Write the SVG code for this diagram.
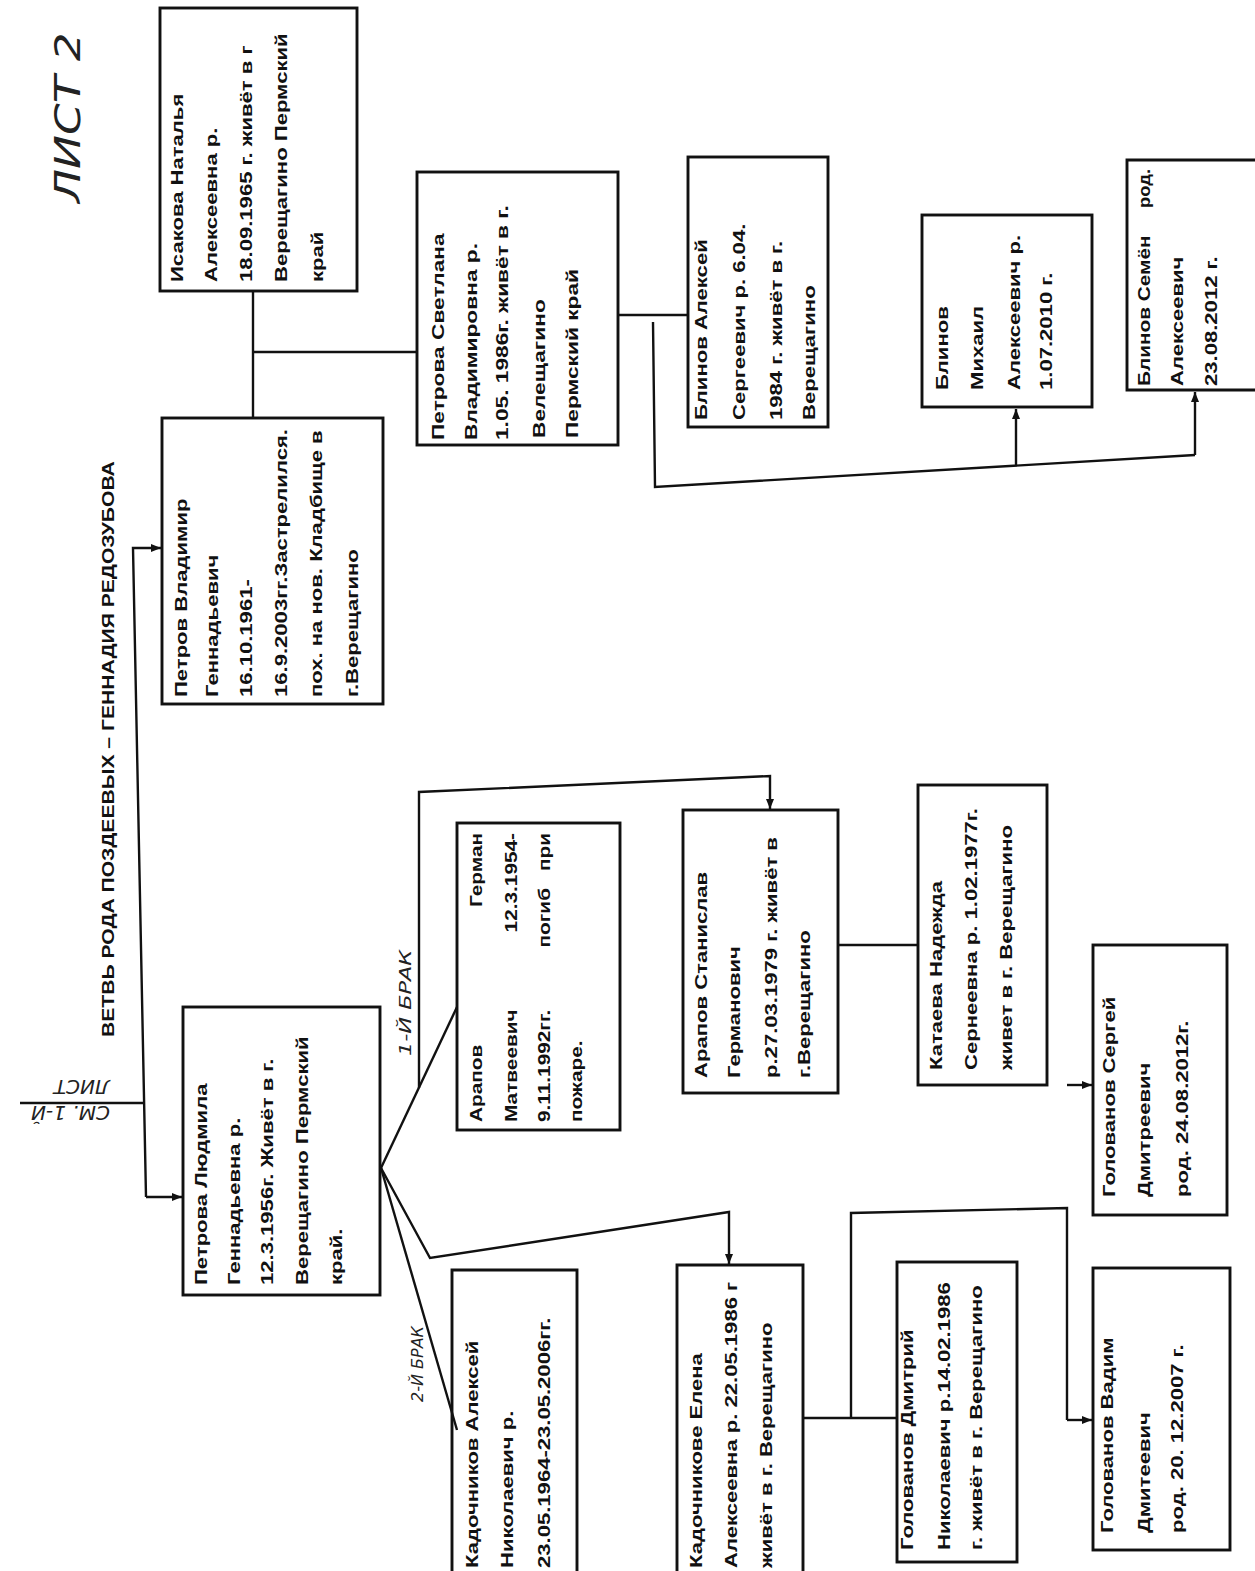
<svg xmlns="http://www.w3.org/2000/svg" width="1255" height="1571" viewBox="0 0 1255 1571">
<style>
.box{fill:none;stroke:#111;stroke-width:2.9}
.ln{fill:none;stroke:#111;stroke-width:2.4}
.t{font-family:"Liberation Sans",Arial,sans-serif;font-weight:bold;font-size:16px;fill:#111}
.ttl{font-family:"Liberation Sans",Arial,sans-serif;font-weight:bold;font-size:16px;fill:#111}
.hw{font-family:"DejaVu Sans","Liberation Sans",sans-serif;font-style:italic;fill:#222}
</style>
<defs>
<marker id="ar" markerUnits="userSpaceOnUse" markerWidth="11" markerHeight="8" refX="10" refY="4" orient="auto">
<path d="M0,0 L10,4 L0,8 z" fill="#111"/>
</marker>
</defs>
<rect width="1255" height="1571" fill="#fff"/>

<g id="title">
<text class="ttl" transform="translate(114,1037) rotate(-90) scale(1.32,1)">ВЕТВЬ РОДА ПОЗДЕЕВЫХ – ГЕННАДИЯ РЕДОЗУБОВА</text>
<text class="hw" font-size="36" transform="translate(80,203) rotate(-90) scale(1.26,1)">ЛИСТ 2</text>
</g>

<g id="connectors">
<path class="ln" d="M253,291 V418"/>
<path class="ln" d="M253,352 H417"/>
<path class="ln" d="M618,315 H688"/>
<path class="ln" d="M653,322 L655,487 L1195,455"/>
<path class="ln" d="M1016,466 V409" marker-end="url(#ar)"/>
<path class="ln" d="M1195,455 V392" marker-end="url(#ar)"/>
<path class="ln" d="M20,1103 H144"/>
<path class="ln" d="M146,1197 L133,548 H161" marker-end="url(#ar)"/>
<path class="ln" d="M146,1197 H182" marker-end="url(#ar)"/>
<path class="ln" d="M381,1168 L457,1007"/>
<path class="ln" d="M381,1168 L457,1430"/>
<path class="ln" d="M419,1088 V792 L770,776 V809" marker-end="url(#ar)"/>
<path class="ln" d="M381,1168 L430,1258 L729,1212 V1264" marker-end="url(#ar)"/>
<path class="ln" d="M838,945 H918"/>
<path class="ln" d="M803,1418 H897"/>
<path class="ln" d="M851,1418 V1213 L1067,1208 V1420"/>
<path class="ln" d="M1067,1085 H1092" marker-end="url(#ar)"/>
<path class="ln" d="M1067,1420 H1092" marker-end="url(#ar)"/>
<text class="hw" font-size="16" transform="translate(411,1056) rotate(-90) scale(1.4,1)">1-Й БРАК</text>
<text class="hw" font-size="16" transform="translate(423,1402) rotate(-90)">2-Й БРАК</text>
<text class="hw" font-size="20" transform="translate(110,1106) rotate(180)">СМ. 1-Й</text>
<text class="hw" font-size="20" transform="translate(110,1080) rotate(180)">ЛИСТ</text>
</g>

<g id="isakova">
<rect class="box" x="160" y="8" width="197" height="283"/>
<text class="t" transform="translate(183,282) rotate(-90) scale(1.38,1)">Исакова Наталья</text>
<text class="t" transform="translate(217,282) rotate(-90) scale(1.38,1)">Алексеевна р.</text>
<text class="t" transform="translate(252,282) rotate(-90) scale(1.38,1)">18.09.1965 г. живёт в г</text>
<text class="t" transform="translate(287,282) rotate(-90) scale(1.38,1)">Верещагино Пермский</text>
<text class="t" transform="translate(323,282) rotate(-90) scale(1.38,1)">край</text>
</g>

<g id="petrov-vladimir">
<rect class="box" x="162" y="418" width="221" height="286"/>
<text class="t" transform="translate(187,697) rotate(-90) scale(1.38,1)">Петров Владимир</text>
<text class="t" transform="translate(218,697) rotate(-90) scale(1.38,1)">Геннадьевич</text>
<text class="t" transform="translate(252,697) rotate(-90) scale(1.38,1)">16.10.1961-</text>
<text class="t" transform="translate(287,697) rotate(-90) scale(1.38,1)">16.9.2003гг.Застрелился.</text>
<text class="t" transform="translate(322,697) rotate(-90) scale(1.38,1)">пох. на нов. Кладбище в</text>
<text class="t" transform="translate(358,697) rotate(-90) scale(1.38,1)">г.Верещагино</text>
</g>

<g id="petrova-svetlana">
<rect class="box" x="417" y="172" width="201" height="273"/>
<text class="t" transform="translate(444,440) rotate(-90) scale(1.42,1)">Петрова Светлана</text>
<text class="t" transform="translate(477,440) rotate(-90) scale(1.42,1)">Владимировна р.</text>
<text class="t" transform="translate(508,440) rotate(-90) scale(1.42,1)">1.05. 1986г. живёт в г.</text>
<text class="t" transform="translate(545,438) rotate(-90) scale(1.42,1)">Велещагино</text>
<text class="t" transform="translate(578,438) rotate(-90) scale(1.42,1)">Пермский край</text>
</g>

<g id="blinov-aleksey">
<rect class="box" x="688" y="157" width="140" height="270"/>
<text class="t" transform="translate(707,420) rotate(-90) scale(1.38,1)">Блинов Алексей</text>
<text class="t" transform="translate(745,420) rotate(-90) scale(1.38,1)">Сергеевич р. 6.04.</text>
<text class="t" transform="translate(782,420) rotate(-90) scale(1.38,1)">1984 г. живёт в г.</text>
<text class="t" transform="translate(815,420) rotate(-90) scale(1.38,1)">Верещагино</text>
</g>

<g id="blinov-mikhail">
<rect class="box" x="922" y="215" width="170" height="192"/>
<text class="t" transform="translate(948,390) rotate(-90) scale(1.38,1)">Блинов</text>
<text class="t" transform="translate(983,390) rotate(-90) scale(1.38,1)">Михаил</text>
<text class="t" transform="translate(1020,390) rotate(-90) scale(1.38,1)">Алексеевич р.</text>
<text class="t" transform="translate(1052,390) rotate(-90) scale(1.38,1)">1.07.2010 г.</text>
</g>

<g id="blinov-semen">
<path class="box" d="M1255,160 H1127 V390 H1255"/>
<text class="t" transform="translate(1150,386) rotate(-90) scale(1.3,1)">Блинов  Семён</text>
<text class="t" transform="translate(1150,208) rotate(-90) scale(1.15,1)">род.</text>
<text class="t" transform="translate(1183,386) rotate(-90) scale(1.38,1)">Алексеевич</text>
<text class="t" transform="translate(1217,386) rotate(-90) scale(1.38,1)">23.08.2012 г.</text>
</g>

<g id="petrova-lyudmila">
<rect class="box" x="183" y="1007" width="197" height="288"/>
<text class="t" transform="translate(207,1285) rotate(-90) scale(1.38,1)">Петрова Людмила</text>
<text class="t" transform="translate(240,1285) rotate(-90) scale(1.38,1)">Геннадьевна р.</text>
<text class="t" transform="translate(273,1285) rotate(-90) scale(1.38,1)">12.3.1956г. Живёт в г.</text>
<text class="t" transform="translate(308,1285) rotate(-90) scale(1.38,1)">Верещагино Пермский</text>
<text class="t" transform="translate(342,1285) rotate(-90) scale(1.38,1)">край.</text>
</g>

<g id="arapov-german">
<rect class="box" x="457" y="823" width="163" height="307"/>
<text class="t" transform="translate(482,1122) rotate(-90) scale(1.3,1)">Арапов</text>
<text class="t" text-anchor="end" transform="translate(482,833) rotate(-90) scale(1.3,1)">Герман</text>
<text class="t" transform="translate(517,1122) rotate(-90) scale(1.3,1)">Матвеевич</text>
<text class="t" text-anchor="end" transform="translate(517,833) rotate(-90) scale(1.3,1)">12.3.1954-</text>
<text class="t" transform="translate(550,1122) rotate(-90) scale(1.3,1)">9.11.1992гг.</text>
<text class="t" text-anchor="end" transform="translate(550,888) rotate(-90) scale(1.3,1)">погиб</text>
<text class="t" text-anchor="end" transform="translate(550,833) rotate(-90) scale(1.3,1)">при</text>
<text class="t" transform="translate(582,1122) rotate(-90) scale(1.3,1)">пожаре.</text>
</g>

<g id="arapov-stanislav">
<rect class="box" x="683" y="810" width="155" height="283"/>
<text class="t" transform="translate(707,1078) rotate(-90) scale(1.38,1)">Арапов Станислав</text>
<text class="t" transform="translate(740,1078) rotate(-90) scale(1.38,1)">Германович</text>
<text class="t" transform="translate(777,1078) rotate(-90) scale(1.38,1)">р.27.03.1979 г. живёт в</text>
<text class="t" transform="translate(810,1078) rotate(-90) scale(1.38,1)">г.Верещагино</text>
</g>

<g id="kataeva-nadezhda">
<rect class="box" x="918" y="785" width="129" height="300"/>
<text class="t" transform="translate(942,1070) rotate(-90) scale(1.38,1)">Катаева Надежда</text>
<text class="t" transform="translate(977,1070) rotate(-90) scale(1.38,1)">Сернеевна р. 1.02.1977г.</text>
<text class="t" transform="translate(1012,1070) rotate(-90) scale(1.38,1)">живет в г. Верещагино</text>
</g>

<g id="kadochnikov-aleksey">
<path class="box" d="M452,1575 V1270 H577 V1575"/>
<text class="t" transform="translate(478,1568) rotate(-90) scale(1.38,1)">Кадочников Алексей</text>
<text class="t" transform="translate(513,1568) rotate(-90) scale(1.38,1)">Николаевич р.</text>
<text class="t" transform="translate(550,1568) rotate(-90) scale(1.38,1)">23.05.1964-23.05.2006гг.</text>
</g>

<g id="kadochnikova-elena">
<path class="box" d="M677,1575 V1265 H803 V1575"/>
<text class="t" transform="translate(702,1568) rotate(-90) scale(1.38,1)">Кадочникове Елена</text>
<text class="t" transform="translate(737,1568) rotate(-90) scale(1.38,1)">Алексеевна р. 22.05.1986 г</text>
<text class="t" transform="translate(772,1568) rotate(-90) scale(1.38,1)">живёт в г. Верещагино</text>
</g>

<g id="golovanov-dmitry">
<rect class="box" x="897" y="1262" width="120" height="300"/>
<text class="t" transform="translate(913,1550) rotate(-90) scale(1.38,1)">Голованов  Дмитрий</text>
<text class="t" transform="translate(950,1550) rotate(-90) scale(1.38,1)">Николаевич р.14.02.1986</text>
<text class="t" transform="translate(982,1550) rotate(-90) scale(1.38,1)">г. живёт в г. Верещагино</text>
</g>

<g id="golovanov-vadim">
<rect class="box" x="1093" y="1268" width="137" height="282"/>
<text class="t" transform="translate(1113,1533) rotate(-90) scale(1.38,1)">Голованов Вадим</text>
<text class="t" transform="translate(1150,1533) rotate(-90) scale(1.38,1)">Дмитеевич</text>
<text class="t" transform="translate(1183,1533) rotate(-90) scale(1.38,1)">род.  20. 12.2007 г.</text>
</g>

<g id="golovanov-sergey">
<rect class="box" x="1093" y="945" width="134" height="270"/>
<text class="t" transform="translate(1115,1197) rotate(-90) scale(1.38,1)">Голованов Сергей</text>
<text class="t" transform="translate(1150,1197) rotate(-90) scale(1.38,1)">Дмитреевич</text>
<text class="t" transform="translate(1188,1197) rotate(-90) scale(1.38,1)">род. 24.08.2012г.</text>
</g>
</svg>
